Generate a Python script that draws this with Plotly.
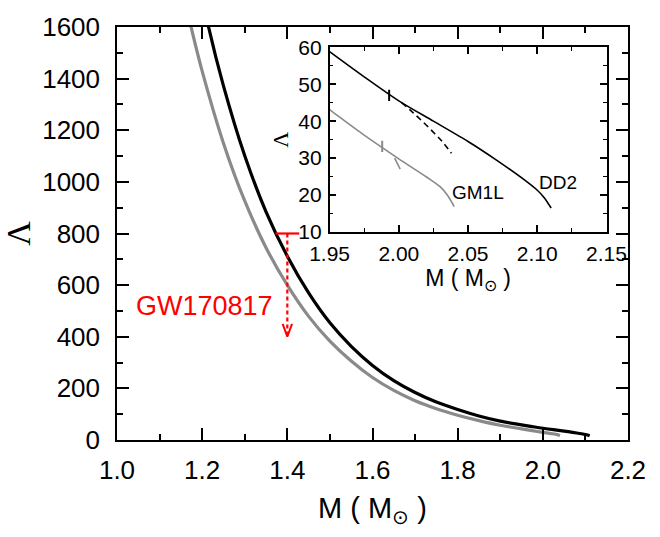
import plotly.graph_objects as go

# ---------------- data ----------------
# DD2 (black) tidal deformability vs mass
dd2_mass = [1.20, 1.215, 1.25, 1.30, 1.35, 1.40, 1.45, 1.50, 1.55, 1.60, 1.65, 1.70,
            1.75, 1.80, 1.85, 1.90, 1.95, 1.975, 2.00, 2.025, 2.05, 2.07, 2.09, 2.10,
            2.105, 2.11]
dd2_lambda = [1720, 1600, 1372, 1101, 884, 712, 570, 454, 363, 289, 230, 184,
              147, 118, 93, 73, 58.8, 52.0, 45.5, 40.0, 34.5, 29.6, 24.3, 21.3,
              19.3, 16.5]
# GM1L (gray)
gm1l_mass = [1.16, 1.174, 1.20, 1.25, 1.30, 1.35, 1.40, 1.45, 1.50, 1.55, 1.60, 1.65,
             1.70, 1.75, 1.80, 1.85, 1.90, 1.95, 1.975, 2.00, 2.02, 2.03, 2.035, 2.04]
gm1l_lambda = [1700, 1600, 1429, 1150, 926, 745, 600, 479, 383, 306, 242, 192,
               152, 121, 96, 75, 57, 43.1, 36.2, 29.8, 24.9, 22.2, 20.0, 16.9]
# dashed branches (inset)
dd2_branch_mass = [2.002, 2.010, 2.018, 2.026, 2.032, 2.038]
dd2_branch_lambda = [45.0, 42.4, 39.6, 36.6, 34.2, 31.3]
gm1l_branch_mass = [1.997, 2.001]
gm1l_branch_lambda = [30.0, 27.0]
# small vertical marks on inset curves
dd2_mark_mass = [1.993]
dd2_mark_lambda = [47.0]
gm1l_mark_mass = [1.988]
gm1l_mark_lambda = [33.2]
# GW170817 upper limit
gw_mass = 1.4
gw_lambda_upper = 800
gw_lambda_lower = 400

BLACK = "#000000"
GRAY = "#8a8a8a"
RED = "#ff0000"

fig = go.Figure()

# main curves
fig.add_trace(go.Scatter(x=gm1l_mass, y=gm1l_lambda, mode="lines",
                         line=dict(color=GRAY, width=3.2, shape="spline", smoothing=0.8),
                         xaxis="x", yaxis="y", showlegend=False))
fig.add_trace(go.Scatter(x=dd2_mass, y=dd2_lambda, mode="lines",
                         line=dict(color=BLACK, width=3.2, shape="spline", smoothing=0.8),
                         xaxis="x", yaxis="y", showlegend=False))

# GW170817 dashed arrow
fig.add_trace(go.Scatter(x=[gw_mass, gw_mass], y=[gw_lambda_upper, gw_lambda_lower + 8],
                         mode="lines", line=dict(color=RED, width=2.2, dash="4px,3px"),
                         showlegend=False))
fig.add_trace(go.Scatter(x=[gw_mass], y=[gw_lambda_upper], mode="markers",
                         marker=dict(symbol="line-ew-open", size=17, color=RED,
                                     line=dict(color=RED, width=2.2)),
                         showlegend=False))
head_dx = 0.011
head_dy = 50
fig.add_trace(go.Scatter(x=[gw_mass - head_dx, gw_mass, gw_mass + head_dx],
                         y=[gw_lambda_lower + head_dy, gw_lambda_lower, gw_lambda_lower + head_dy],
                         mode="lines", line=dict(color=RED, width=2),
                         showlegend=False))

# inset curves
fig.add_trace(go.Scatter(x=gm1l_mass, y=gm1l_lambda, mode="lines",
                         line=dict(color=GRAY, width=1.6, shape="spline", smoothing=0.8),
                         xaxis="x2", yaxis="y2", showlegend=False))
fig.add_trace(go.Scatter(x=dd2_mass, y=dd2_lambda, mode="lines",
                         line=dict(color=BLACK, width=1.6, shape="spline", smoothing=0.8),
                         xaxis="x2", yaxis="y2", showlegend=False))
fig.add_trace(go.Scatter(x=dd2_branch_mass, y=dd2_branch_lambda, mode="lines",
                         line=dict(color=BLACK, width=1.6, dash="6px,4px", shape="spline"),
                         xaxis="x2", yaxis="y2", showlegend=False))
fig.add_trace(go.Scatter(x=gm1l_branch_mass, y=gm1l_branch_lambda, mode="lines",
                         line=dict(color=GRAY, width=1.6),
                         xaxis="x2", yaxis="y2", showlegend=False))
fig.add_trace(go.Scatter(x=dd2_mark_mass, y=dd2_mark_lambda, mode="markers",
                         marker=dict(symbol="line-ns-open", size=8, color=BLACK,
                                     line=dict(color=BLACK, width=2)),
                         xaxis="x2", yaxis="y2", showlegend=False))
fig.add_trace(go.Scatter(x=gm1l_mark_mass, y=gm1l_mark_lambda, mode="markers",
                         marker=dict(symbol="line-ns-open", size=8, color=GRAY,
                                     line=dict(color=GRAY, width=2)),
                         xaxis="x2", yaxis="y2", showlegend=False))

SANS = "Liberation Sans, Arial, sans-serif"
SERIF = "Liberation Serif, Times New Roman, serif"

axis_common = dict(showline=True, linecolor=BLACK, linewidth=1.5, mirror="ticks",
                   ticks="inside", tickcolor=BLACK, tickwidth=1.5,
                   showgrid=False, zeroline=False)

fig.update_layout(
    width=660, height=537,
    margin=dict(l=116, r=20, t=13, b=97),
    plot_bgcolor="white", paper_bgcolor="white",
    font=dict(family=SANS, color=BLACK),
    xaxis=dict(**axis_common, domain=[0, 1], anchor="y", range=[1.0, 2.2],
               tick0=1.0, dtick=0.2, tickformat=".1f", ticklen=12,
               minor=dict(ticks="inside", dtick=0.1, ticklen=6, tickwidth=1.5,
                          tickcolor=BLACK, showgrid=False),
               tickfont=dict(size=26, family=SANS), ticklabelstandoff=6,
               title=dict(text="M ( M<sub>⊙</sub> )", font=dict(size=29, family=SANS),
                          standoff=14)),
    yaxis=dict(**axis_common, domain=[0, 1], anchor="x", range=[0, 1600],
               tick0=0, dtick=200, ticklen=12,
               minor=dict(ticks="inside", dtick=100, ticklen=6, tickwidth=1.5,
                          tickcolor=BLACK, showgrid=False),
               tickfont=dict(size=26, family=SANS), ticklabelstandoff=10,
               title=dict(text="Λ", font=dict(size=34, family=SERIF), standoff=6)),
    xaxis2=dict(**axis_common, domain=[0.416, 0.958], anchor="y2", range=[1.95, 2.15],
                tick0=1.95, dtick=0.05, tickformat=".2f", ticklen=7,
                minor=dict(ticks="inside", dtick=0.025, ticklen=4, tickwidth=1.2,
                           tickcolor=BLACK, showgrid=False),
                tickfont=dict(size=21, family=SANS), ticklabelstandoff=2,
                title=dict(text="M ( M<sub>⊙</sub> )", font=dict(size=23, family=SANS),
                           standoff=6)),
    yaxis2=dict(**axis_common, domain=[0.5035, 0.951], anchor="x2", range=[10, 60],
                tick0=10, dtick=10, ticklen=7,
                minor=dict(ticks="inside", dtick=5, ticklen=4, tickwidth=1.2,
                           tickcolor=BLACK, showgrid=False),
                tickfont=dict(size=21, family=SANS), ticklabelstandoff=2,
                title=dict(text="Λ", font=dict(size=22, family=SERIF), standoff=4)),
    annotations=[
        dict(text="GW170817", x=1.206, y=521, xref="x", yref="y", showarrow=False,
             font=dict(size=27, color=RED, family=SANS)),
        dict(text="DD2", x=2.115, y=23.4, xref="x2", yref="y2", showarrow=False,
             font=dict(size=19, color=BLACK, family=SANS)),
        dict(text="GM1L", x=2.057, y=20.6, xref="x2", yref="y2", showarrow=False,
             font=dict(size=19, color=BLACK, family=SANS)),
    ],
)

fig.write_html("out.html")
